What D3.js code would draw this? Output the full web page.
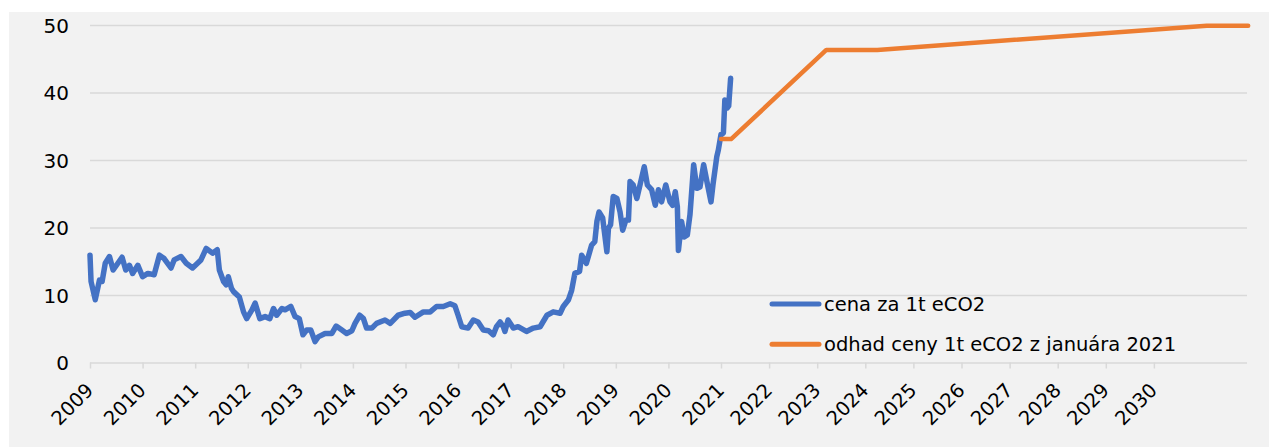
<!DOCTYPE html>
<html><head><meta charset="utf-8">
<script src="https://cdn.jsdelivr.net/npm/d3@7"></script>
<style>
html,body{margin:0;padding:0;background:#fff;}
svg text{font-family:"DejaVu Sans",Verdana,sans-serif;}
</style></head>
<body>
<svg id="chart" width="1269" height="447"></svg>
<script>
// ---- data ----
const yearTicks = [2009,2010,2011,2012,2013,2014,2015,2016,2017,2018,2019,2020,2021,2022,2023,2024,2025,2026,2027,2028,2029,2030];
const yTicks = [0,10,20,30,40,50];
const seriesNames = ["cena za 1t eCO2", "odhad ceny 1t eCO2 z januára 2021"];
const priceYears = [2009.00,2009.02,2009.10,2009.18,2009.23,2009.29,2009.37,2009.44,2009.53,2009.61,2009.68,2009.75,2009.81,2009.91,2010.00,2010.10,2010.22,2010.32,2010.41,2010.54,2010.60,2010.73,2010.83,2010.95,2011.11,2011.21,2011.33,2011.42,2011.46,2011.54,2011.59,2011.63,2011.69,2011.73,2011.84,2011.92,2011.98,2012.08,2012.14,2012.23,2012.33,2012.42,2012.49,2012.55,2012.65,2012.71,2012.82,2012.90,2012.98,2013.05,2013.12,2013.20,2013.28,2013.34,2013.47,2013.60,2013.68,2013.79,2013.88,2013.98,2014.04,2014.13,2014.20,2014.26,2014.36,2014.45,2014.61,2014.71,2014.86,2014.99,2015.09,2015.18,2015.34,2015.47,2015.59,2015.72,2015.85,2015.94,2016.00,2016.07,2016.19,2016.29,2016.38,2016.48,2016.58,2016.67,2016.73,2016.80,2016.86,2016.89,2016.95,2017.05,2017.14,2017.30,2017.43,2017.56,2017.69,2017.81,2017.94,2018.00,2018.10,2018.16,2018.22,2018.31,2018.35,2018.44,2018.54,2018.60,2018.64,2018.68,2018.75,2018.83,2018.86,2018.90,2018.95,2019.02,2019.08,2019.13,2019.19,2019.24,2019.27,2019.33,2019.40,2019.46,2019.54,2019.60,2019.68,2019.75,2019.81,2019.87,2019.95,2020.03,2020.08,2020.13,2020.17,2020.19,2020.25,2020.30,2020.36,2020.41,2020.48,2020.54,2020.60,2020.67,2020.74,2020.81,2020.85,2020.92,2020.95,2021.00,2021.05,2021.08,2021.13,2021.16,2021.20];
const priceValues = [15.9,12.0,9.3,12.2,12.0,14.7,15.7,13.7,14.7,15.6,13.7,14.4,13.2,14.4,12.7,13.2,13.0,15.9,15.4,14.0,15.2,15.7,14.7,14.0,15.2,16.9,16.2,16.7,13.7,12.0,11.5,12.7,11.0,10.5,9.7,7.5,6.5,7.8,8.8,6.5,6.8,6.5,8.0,7.0,8.0,7.8,8.3,6.8,6.5,4.1,4.8,4.8,3.1,3.8,4.3,4.3,5.4,4.8,4.3,4.7,5.8,7.0,6.5,5.1,5.1,5.8,6.3,5.8,7.0,7.3,7.4,6.7,7.5,7.5,8.3,8.3,8.7,8.4,7.0,5.3,5.1,6.3,6.0,4.8,4.7,4.1,5.3,6.0,5.3,4.6,6.3,5.1,5.3,4.6,5.1,5.3,7.0,7.5,7.3,8.3,9.3,10.7,13.2,13.5,15.9,14.7,17.4,17.9,20.9,22.3,21.4,16.4,19.9,20.4,24.6,24.3,22.3,19.6,21.1,21.1,26.8,26.3,24.3,26.3,29.0,26.3,25.6,23.3,25.6,23.8,26.3,23.8,23.3,25.3,23.1,16.6,20.9,18.6,18.9,21.9,29.3,25.8,26.0,29.3,26.5,23.8,26.5,30.5,31.5,33.8,34.0,38.9,37.7,38.0,42.1];
const forecastYears = [2021.00,2021.21,2023.19,2024.25,2031.10,2031.96];
const forecastValues = [33.1,33.1,46.3,46.3,49.9,49.9];

// ---- chart ----
const svg = d3.select("#chart");
svg.append("rect").attr("x",9).attr("y",12).attr("width",1260).attr("height",435).attr("fill","#f2f2f2");

const x = d3.scaleLinear().domain([2009,2021,2031]).range([90,721,1202]);
const xEnd = 1247;
const y = d3.scaleLinear().domain([0,50]).range([362.5,25]);

// gridlines
const gy = svg.append("g").attr("transform","translate(90,0)")
  .call(d3.axisLeft(y).tickValues(yTicks).tickSize(-(xEnd-90)).tickFormat(d=>d));
gy.select(".domain").remove();
gy.selectAll(".tick line").attr("stroke","#d9d9d9").attr("stroke-width",1.5);
gy.selectAll(".tick text").attr("x",-21).attr("font-size",20).attr("fill","#000").attr("dy","0.36em");

// x axis
const gx = svg.append("g").attr("transform","translate(0,"+y(0)+")")
  .call(d3.axisBottom(x).tickValues(yearTicks).tickSize(6).tickFormat(d3.format("d")));
gx.select(".domain").remove();
gx.selectAll(".tick line").attr("stroke","#d9d9d9").attr("stroke-width",1.5);
gx.selectAll(".tick text").attr("font-size",19.5).attr("fill","#000")
  .attr("text-anchor","end").attr("dy",null).attr("y",0)
  .attr("transform","translate(4,29) rotate(-45)");

// lines
const line = d3.line().x(d=>x(d[0])).y(d=>y(d[1])).curve(d3.curveLinear);
const priceData = priceYears.map((t,i)=>[t,priceValues[i]]);
const forecastData = forecastYears.map((t,i)=>[t,forecastValues[i]]);
svg.append("path").datum(priceData).attr("d",line).attr("fill","none")
  .attr("stroke","#4472c4").attr("stroke-width",5.5).attr("stroke-linejoin","round").attr("stroke-linecap","round");
svg.append("path").datum(forecastData).attr("d",line).attr("fill","none")
  .attr("stroke","#ed7d31").attr("stroke-width",4.5).attr("stroke-linejoin","round").attr("stroke-linecap","round");

// legend
const colors = ["#4472c4","#ed7d31"];
const lg = svg.append("g");
seriesNames.forEach((n,i)=>{
  const ly = 304 + i*40.3;
  lg.append("line").attr("x1",772).attr("x2",819).attr("y1",ly).attr("y2",ly)
    .attr("stroke",colors[i]).attr("stroke-width",5).attr("stroke-linecap","round");
  lg.append("text").attr("x",824).attr("y",ly).attr("dy","0.36em").attr("font-size",19.5).attr("fill","#000").text(n);
});
</script>
</body></html>
